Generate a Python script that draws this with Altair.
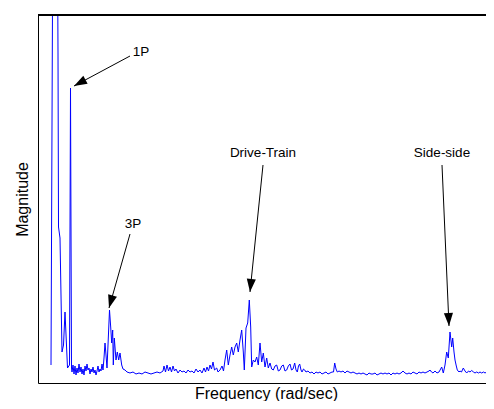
import altair as alt
import pandas as pd
import numpy as np

# Spectrum (frequency in rad/sec, magnitude in arbitrary units)
freq = [1.3, 1.7, 2.0, 2.05, 2.2, 2.4, 2.55, 2.7, 2.95, 3.15, 3.25, 3.35,
        3.4, 3.5, 3.6, 3.7, 3.8, 3.9, 4.0, 4.1, 4.2, 4.3, 4.4, 4.5, 4.6, 4.7, 4.8, 4.9,
        5.0, 5.1, 5.2, 5.3, 5.4, 5.5, 5.6, 5.7, 5.8, 5.9, 6.0, 6.1, 6.2, 6.3, 6.4, 6.5,
        6.6, 6.7, 6.8, 6.9, 7.0, 7.15, 7.27, 7.37, 7.47, 7.53, 7.63, 7.8, 7.93, 8.07,
        8.2, 8.37, 8.5, 8.7, 8.9, 9.2, 9.5, 9.8, 10.1, 10.4, 10.7, 11.0, 11.3, 11.6,
        11.9, 12.2, 12.5, 12.6, 12.75, 12.9, 13.05, 13.2, 13.35, 13.5, 13.65, 13.8,
        14.0, 14.2, 14.4, 14.6, 14.8, 15.0, 15.2, 15.4, 15.6, 15.8, 16.0, 16.2, 16.4,
        16.6, 16.75, 16.9, 17.05, 17.2, 17.35, 17.5, 17.65, 17.87, 18.0, 18.2, 18.4,
        18.55, 18.7, 18.87, 19.03, 19.2, 19.37, 19.53, 19.7, 19.87, 20.03, 20.2, 20.37,
        20.53, 20.63, 20.8, 20.97, 21.13, 21.27, 21.37, 21.53, 21.7, 21.87, 22.03,
        22.2, 22.37, 22.53, 22.7, 22.87, 23.03, 23.2, 23.37, 23.53, 23.7, 23.87, 24.03,
        24.2, 24.37, 24.53, 24.7, 24.87, 25.03, 25.2, 25.35, 25.5, 25.67, 25.8, 25.93,
        26.05, 26.17, 26.3, 26.4, 26.55, 26.67, 26.8, 27.0, 27.2, 27.4, 27.6, 27.8,
        28.0, 28.2, 28.4, 28.6, 28.8, 29.0, 29.2, 29.4, 29.55, 29.67, 29.8, 29.93,
        30.1, 30.3, 30.5, 30.7, 30.9, 31.1, 31.3, 31.5, 31.7, 31.9, 32.1, 32.3, 32.5,
        32.7, 32.9, 33.1, 33.3, 33.5, 33.7, 33.9, 34.1, 34.3, 34.5, 34.7, 34.9, 35.1,
        35.3, 35.5, 35.7, 35.9, 36.1, 36.3, 36.5, 36.7, 36.9, 37.1, 37.3, 37.5, 37.7,
        37.9, 38.1, 38.3, 38.5, 38.7, 38.9, 39.1, 39.2, 39.35, 39.5, 39.7, 39.9, 40.1,
        40.37, 40.53, 40.7, 40.87, 41.03, 41.2, 41.37, 41.47, 41.6, 41.7, 41.83, 41.93,
        42.1, 42.2, 42.35, 42.53, 42.7, 42.87, 43.05, 43.2, 43.37, 43.55, 43.7, 43.87,
        44.05, 44.2, 44.37, 44.55, 44.7, 44.87, 45.05, 45.2, 45.4, 45.6, 45.8]
mag = [18, 983, 330, 156, 145, 31, 38, 71, 15, 18, 295, 15,
       11, 18, 9, 17, 8, 15, 10, 19, 11, 16, 9, 14, 8, 17, 12, 19,
       13, 15, 9, 14, 11, 16, 10, 13, 8, 12, 17, 11, 14, 12, 19, 13,
       25, 40, 28, 15, 38, 73, 56, 40, 53, 18, 45, 23, 31, 23,
       30, 18, 14, 13, 11, 10, 11, 9, 10, 9, 11, 10, 9, 10,
       11, 10, 12, 17, 11, 18, 12, 16, 11, 17, 12, 14,
       10, 13, 11, 12, 10, 13, 11, 12, 10, 14, 11, 13, 10,
       15, 11, 16, 12, 18, 14, 21, 13, 15, 11, 13, 17,
       12, 23, 33, 18, 28, 36, 28, 36, 40, 31, 43, 53,
       31, 13, 55, 60, 83, 56, 16, 23, 21, 26, 18,
       40, 21, 30, 16, 25, 15, 20, 14, 13, 17, 18, 12,
       13, 17, 18, 12, 13, 17, 19, 13, 14, 20, 13, 11,
       17, 19, 13, 11, 14, 13, 11, 12, 10, 11, 9, 11,
       10, 11, 9, 10, 11, 9, 10, 11, 11, 20, 14, 11,
       12, 11, 12, 10, 12, 11, 10, 11, 10, 9, 10, 9, 10,
       9, 8, 10, 9, 9, 10, 8, 9, 10, 9, 10, 9, 10,
       8, 10, 9, 10, 9, 10, 12, 10, 9, 10, 9, 11, 10,
       9, 11, 10, 11, 10, 11, 12, 13, 11, 10, 12, 10, 11,
       16, 10, 18, 31, 25, 51, 36, 45, 31, 23, 17, 13,
       11, 12, 11, 15, 12, 10, 12, 11, 12.5, 11, 10, 11,
       10, 11, 10, 11, 10, 11, 10, 10, 11, 10, 11]

# Annotations
ann_text = ["1P", "3P", "Drive-Train", "Side-side"]
ann_tx = [10.3, 9.5, 22.5, 40.4]
ann_ty = [331, 159, 230, 230]
arr_x0 = [9.2, 9.2, 22.5, 40.4]
arr_y0 = [327, 149, 218, 218]
arr_x1 = [3.6, 7.1, 21.2, 41.1]
arr_y1 = [297, 75, 91, 57]

W, H = 456, 368
XD = [0, 45.6]
YD = [0, 368]

spec = pd.DataFrame({"f": freq, "m": mag})
ann = pd.DataFrame({"t": ann_text, "x": ann_tx, "y": ann_ty})
px_per_x = W / (XD[1] - XD[0])
px_per_y = H / (YD[1] - YD[0])
ang = []
for a, b, c, d in zip(arr_x0, arr_y0, arr_x1, arr_y1):
    dx = (c - a) * px_per_x
    dy = -(d - b) * px_per_y
    ang.append(float(np.degrees(np.arctan2(-dx, dy)) % 360))
arr = pd.DataFrame({"x0": arr_x0, "y0": arr_y0, "x1": arr_x1, "y1": arr_y1, "ang": ang})

FONT = "Liberation Sans"
xs = alt.Scale(domain=XD, nice=False, zero=False)
ys = alt.Scale(domain=YD, nice=False, zero=False)

line = alt.Chart(spec).mark_line(color="#0000ff", strokeWidth=1, clip=True).encode(
    x=alt.X("f:Q", scale=xs, title="Frequency (rad/sec)",
            axis=alt.Axis(ticks=False, labels=False, grid=False, domainColor="black",
                          domainWidth=1, titleFont=FONT, titleFontSize=16,
                          titleFontWeight="normal", titleColor="black", titlePadding=2)),
    y=alt.Y("m:Q", scale=ys, title="Magnitude",
            axis=alt.Axis(ticks=False, labels=False, grid=False, domainColor="black",
                          domainWidth=1, titleFont=FONT, titleFontSize=16,
                          titleFontWeight="normal", titleColor="black", titlePadding=8)),
)

top = alt.Chart(spec).mark_rule(color="black", strokeWidth=1).encode(y=alt.value(0))

shafts = alt.Chart(arr).mark_rule(color="black", strokeWidth=1).encode(
    x=alt.X("x0:Q", scale=xs), y=alt.Y("y0:Q", scale=ys),
    x2="x1:Q", y2="y1:Q")

heads = alt.Chart(arr).mark_point(
    shape="M0,0L-0.35,-1L0.35,-1Z", filled=True, color="black", opacity=1, size=676,
    strokeWidth=0).encode(
    x=alt.X("x1:Q", scale=xs), y=alt.Y("y1:Q", scale=ys), angle=alt.Angle("ang:Q", scale=None))

labels = alt.Chart(ann).mark_text(font=FONT, fontSize=13.5, color="black",
                                  align="center", baseline="middle").encode(
    x=alt.X("x:Q", scale=xs), y=alt.Y("y:Q", scale=ys), text="t:N")

chart = alt.layer(line, top, shafts, heads, labels).properties(
    width=W, height=H,
    autosize=alt.AutoSizeParams(type="none"),
    padding={"left": 30, "top": 7, "right": -8, "bottom": 18},
    background="white",
).configure_view(stroke=None)

chart.save("out.html", embed_options={"renderer": "svg", "actions": False})
